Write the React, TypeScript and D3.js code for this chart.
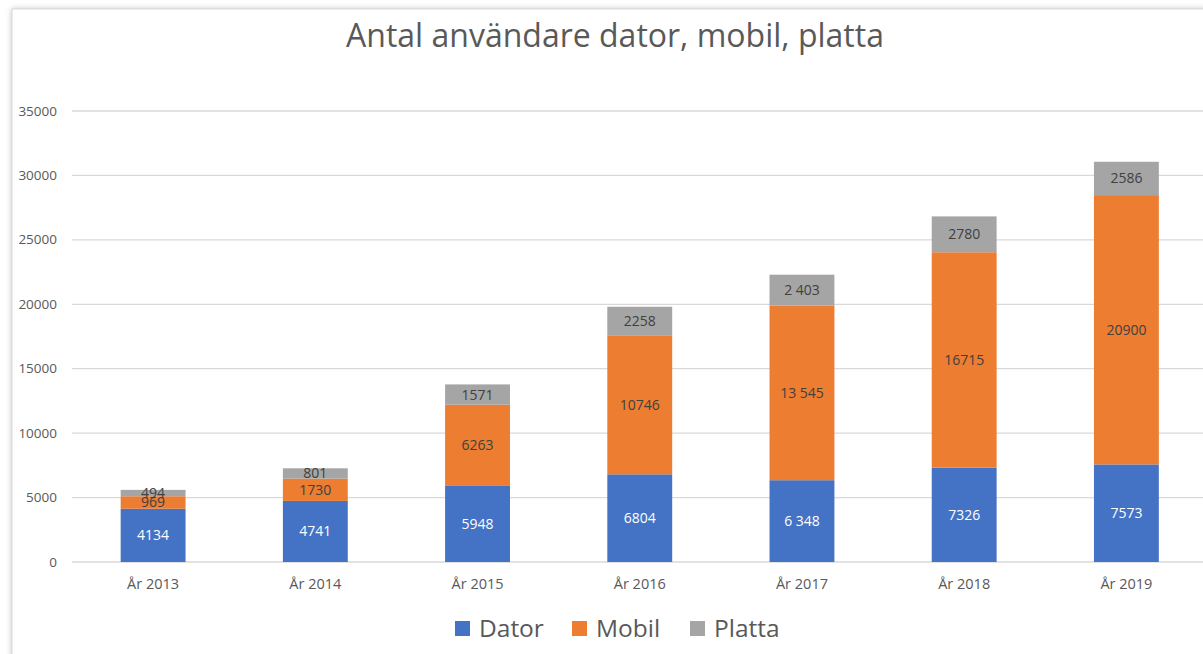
import React from "react";
import * as d3 from "d3";

const categories = ["År 2013", "År 2014", "År 2015", "År 2016", "År 2017", "År 2018", "År 2019"];
const datorValues = [4134, 4741, 5948, 6804, 6348, 7326, 7573];
const mobilValues = [969, 1730, 6263, 10746, 13545, 16715, 20900];
const plattaValues = [494, 801, 1571, 2258, 2403, 2780, 2586];
const datorLabels = ["4134", "4741", "5948", "6804", "6 348", "7326", "7573"];
const mobilLabels = ["969", "1730", "6263", "10746", "13 545", "16715", "20900"];
const plattaLabels = ["494", "801", "1571", "2258", "2 403", "2780", "2586"];
const yTicks = [0, 5000, 10000, 15000, 20000, 25000, 30000, 35000];
const seriesNames = ["Dator", "Mobil", "Platta"];
const colors = ["#4472C4", "#ED7D31", "#A5A5A5"];

const W = 1203;
const H = 654;
const FONT = "'Open Sans', 'Noto Sans', sans-serif";

export default function App() {
  const x = d3.scaleBand<string>().domain(categories).range([72, 1207.5]).paddingInner(0.6).paddingOuter(0.3);
  const y = d3.scaleLinear().domain([0, 35000]).range([562, 111]);

  const rows = categories.map((c, i) => ({ cat: c, Dator: datorValues[i], Mobil: mobilValues[i], Platta: plattaValues[i] }));
  const stack = d3.stack<any>().keys(seriesNames)(rows);
  const labelSets = [datorLabels, mobilLabels, plattaLabels];
  const labelColors = ["#ffffff", "#404040", "#404040"];

  const legendX = [455, 572, 690];

  return (
    <svg width={W} height={H} style={{ position: "absolute", left: 0, top: 0, background: "#fff" }}>
      <defs>
        <filter id="sh" x="-5%" y="-5%" width="110%" height="110%">
          <feDropShadow dx="0" dy="0" stdDeviation="3" floodColor="#000" floodOpacity="0.25" />
        </filter>
      </defs>
      <rect x={12} y={9} width={1220} height={680} fill="#fff" filter="url(#sh)" />
      <rect x={12} y={9} width={1220} height={680} fill="#fff" stroke="#d9d9d9" strokeWidth={1} />
      <text x={615} y={47} textAnchor="middle" fontFamily={FONT} fontSize={32} fill="#595959">
        Antal användare dator, mobil, platta
      </text>
      {yTicks.map((t) => (
        <g key={t}>
          <line x1={72} x2={1210} y1={y(t)} y2={y(t)} stroke="#d9d9d9" strokeWidth={1.3} />
          <text x={57} y={y(t) + 4.5} textAnchor="end" fontFamily={FONT} fontSize={13.5} fill="#595959">
            {t}
          </text>
        </g>
      ))}
      {stack.map((s, si) => (
        <g key={s.key}>
          {s.map((d, i) => (
            <rect
              key={i}
              x={x(categories[i])!}
              width={x.bandwidth()}
              y={y(d[1])}
              height={y(d[0]) - y(d[1])}
              fill={colors[si]}
            />
          ))}
        </g>
      ))}
      {stack.map((s, si) => (
        <g key={s.key + "l"}>
          {s.map((d, i) => (
            <text
              key={i}
              x={x(categories[i])! + x.bandwidth() / 2}
              y={(y(d[0]) + y(d[1])) / 2 + 5}
              textAnchor="middle"
              fontFamily={FONT}
              fontSize={14}
              fill={labelColors[si]}
            >
              {labelSets[si][i]}
            </text>
          ))}
        </g>
      ))}
      {categories.map((c) => (
        <text key={c} x={x(c)! + x.bandwidth() / 2} y={589} textAnchor="middle" fontFamily={FONT} fontSize={14.5} fill="#595959">
          {c}
        </text>
      ))}
      {seriesNames.map((n, i) => (
        <g key={n}>
          <rect x={legendX[i]} y={621} width={15} height={15} fill={colors[i]} />
          <text x={legendX[i] + 24} y={637} fontFamily={FONT} fontSize={24.5} fill="#595959">
            {n}
          </text>
        </g>
      ))}
    </svg>
  );
}
